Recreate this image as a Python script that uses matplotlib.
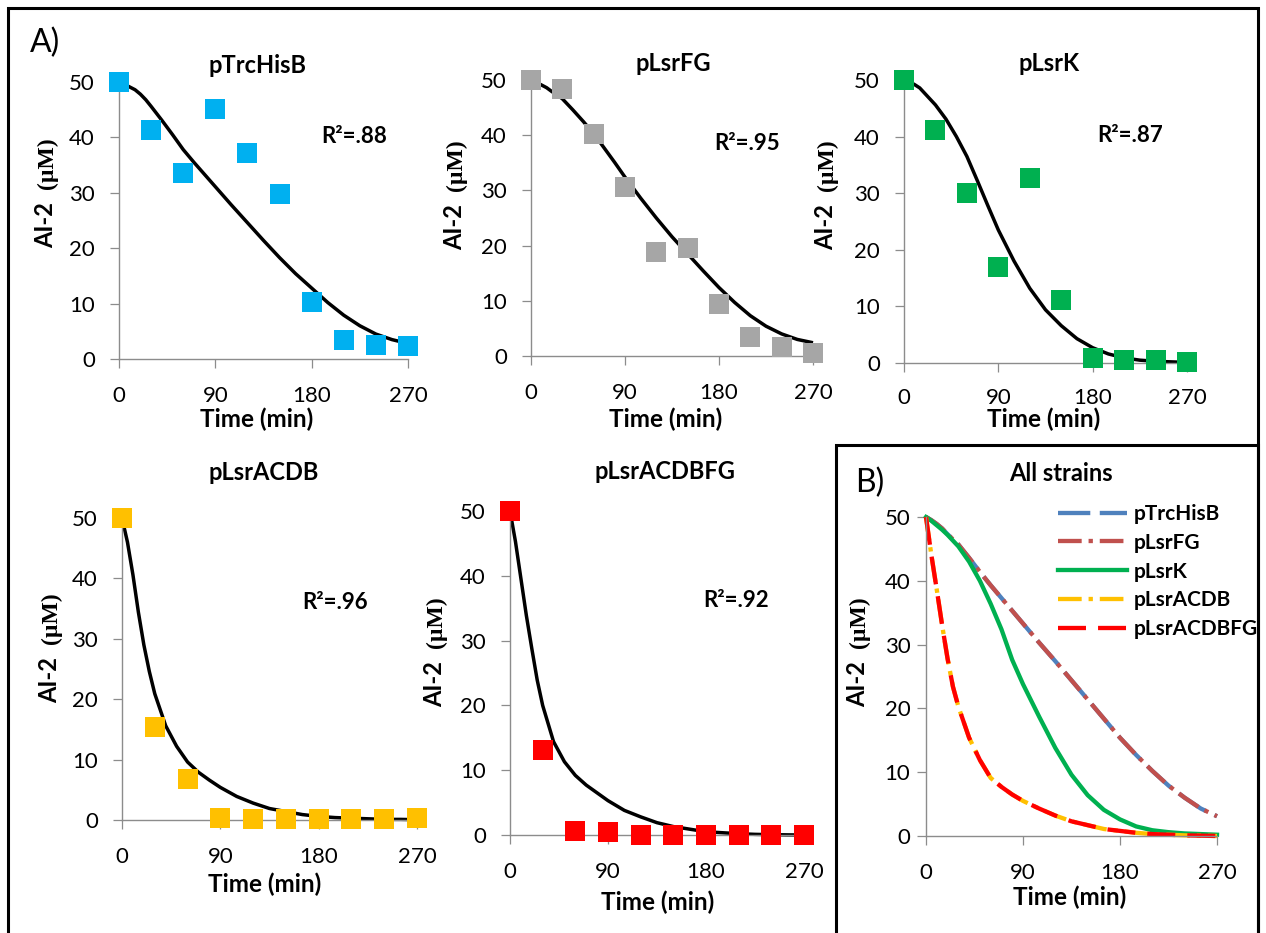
import matplotlib
matplotlib.use("Agg")
import matplotlib.pyplot as plt
from matplotlib.patches import Rectangle

W, H = 1266, 933
plt.rcParams['font.family'] = ['Lato', 'DejaVu Sans']

# Sampling times of the measurements (min)
time_pts = [0, 30, 60, 90, 120, 150, 180, 210, 240, 270]

# Measured AI-2 (uM)
trchisb_obs = [50, 41.4, 33.6, 45.2, 37.2, 29.7, 10.2, 3.5, 2.6, 2.4]
lsrfg_obs = [50, 48.4, 40.2, 30.7, 18.9, 19.5, 9.4, 3.4, 1.7, 0.6]
lsrk_obs = [50, 41.2, 30.0, 17.0, 32.6, 11.2, 0.9, 0.5, 0.5, 0.1]
lsracdb_obs = [50, 15.4, 6.8, 0.3, 0.1, 0.1, 0.1, 0.1, 0.1, 0.3]
lsracdbfg_obs = [50, 13.1, 0.6, 0.4, 0.0, 0.0, 0.0, 0.0, 0.0, 0.0]

# Model curves (min / uM)
fit_t = [0, 5, 10, 15, 20, 25, 30, 40, 50, 60, 70, 80, 90, 105, 120, 135,
         150, 165, 180, 195, 210, 225, 240, 255, 270]
trchisb_fit = [50, 49.6, 49.1, 48.6, 47.8, 46.8, 45.6, 43.1, 40.5, 37.8, 35.5, 33.3,
               31.1, 27.8, 24.6, 21.4, 18.3, 15.4, 12.8, 10.2, 7.9, 6.0, 4.5, 3.5, 2.8]
lsrfg_fit = [50, 49.6, 49.1, 48.6, 47.9, 47.3, 46.6, 44.6, 42.5, 40.3, 37.7, 35.1,
             32.4, 28.6, 25.0, 21.6, 18.5, 15.4, 12.4, 9.7, 7.3, 5.4, 4.0, 3.0, 2.4]
lsrk_fit = [50, 49.7, 49.2, 48.6, 47.6, 46.6, 45.6, 43.1, 40.0, 36.5, 32.2, 27.8,
            23.5, 18.0, 13.2, 9.4, 6.6, 4.3, 2.7, 1.6, 0.9, 0.5, 0.3, 0.2, 0.1]
lsracdb_fit = [50, 46.0, 40.6, 34.4, 29.0, 24.6, 20.9, 15.6, 12.2, 9.6, 7.9, 6.6,
               5.4, 3.9, 2.8, 1.9, 1.4, 0.9, 0.6, 0.4, 0.3, 0.2, 0.1, 0.1, 0.05]
lsracdbfg_fit = [50, 45.3, 39.6, 33.9, 28.8, 23.9, 20.0, 14.4, 11.3, 9.2, 7.7, 6.5,
                 5.3, 3.8, 2.8, 1.9, 1.3, 0.9, 0.5, 0.35, 0.2, 0.1, 0.05, 0.02, 0.0]

# Curves of the combined panel
all_trchisb = [50, 49.5, 48.9, 48.2, 47.3, 46.5, 45.7, 43.6, 41.4, 39.3, 37.3, 35.3,
               33.3, 30.3, 27.4, 24.4, 21.4, 18.4, 15.4, 12.7, 10.2, 7.9, 6.0, 4.3, 3.1]
all_lsrfg = [50, 49.5, 48.9, 48.2, 47.3, 46.5, 45.7, 43.6, 41.4, 39.3, 37.3, 35.3,
             33.3, 30.3, 27.4, 24.4, 21.4, 18.4, 15.4, 12.7, 10.2, 7.9, 6.0, 4.3, 3.1]
all_lsrk = [50, 49.4, 48.7, 48.0, 47.2, 46.3, 45.4, 43.0, 40.0, 36.4, 32.4, 27.6,
            23.8, 18.7, 13.8, 9.6, 6.4, 4.1, 2.6, 1.5, 0.9, 0.6, 0.4, 0.3, 0.2]
all_lsracdb = [50, 44.0, 38.6, 33.0, 27.8, 23.4, 20.3, 15.4, 11.9, 9.1, 7.7, 6.5,
               5.5, 4.3, 3.2, 2.3, 1.7, 1.1, 0.8, 0.5, 0.3, 0.2, 0.1, 0.05, 0.0]
all_lsracdbfg = [50, 44.0, 38.6, 33.0, 27.8, 23.4, 20.3, 15.4, 11.9, 9.1, 7.7, 6.5,
                 5.5, 4.3, 3.2, 2.3, 1.7, 1.1, 0.8, 0.5, 0.3, 0.2, 0.1, 0.05, 0.0]

strain_names = ["pTrcHisB", "pLsrFG", "pLsrK", "pLsrACDB", "pLsrACDBFG"]
r2_labels = ["R²=.88", "R²=.95", "R²=.87", "R²=.96", "R²=.92"]
x_ticks = [0, 90, 180, 270]
y_ticks = [0, 10, 20, 30, 40, 50]

AXIS_GRAY = "#8c8c8c"
marker_colors = ["#00B0F0", "#A6A6A6", "#00B050", "#FFC000", "#FF0000"]
line_colors = ["#4F81BD", "#C0504D", "#00B050", "#FFC000", "#FF0000"]

fig = plt.figure(figsize=(W / 100, H / 100), dpi=100)


def fx(x):
    return x / W


def fy(y):
    return 1 - y / H


def add_axes_px(left, top, right, bottom):
    return fig.add_axes([fx(left), fy(bottom), (right - left) / W, (bottom - top) / H])


def style(ax, ypad=11, xpad=13):
    ax.set_xlim(0, 270)
    ax.set_ylim(0, 50)
    ax.set_xticks(x_ticks)
    ax.set_yticks(y_ticks)
    for s in ("top", "right"):
        ax.spines[s].set_visible(False)
    for s in ("left", "bottom"):
        ax.spines[s].set_color(AXIS_GRAY)
        ax.spines[s].set_linewidth(1.0)
    ax.tick_params(direction="out", color=AXIS_GRAY, width=0.9, length=6.3,
                   labelsize=16, labelcolor="black")
    ax.tick_params(axis="x", pad=xpad)
    ax.tick_params(axis="y", pad=ypad)
    ax.patch.set_alpha(0)


ylabel_parts = []


def ylabel_px(base_x, start_y):
    t = fig.text(fx(base_x), fy(start_y), "AI-2", rotation=90, rotation_mode="anchor",
                 ha="left", va="baseline", fontsize=17, fontweight="bold")
    ylabel_parts.append((t, base_x))


def fig_text(x, y, s, **kw):
    fig.text(fx(x), fy(y), s, **kw)


# Individual strain panels: (left, top, right, bottom) in pixels
boxes = [(119, 82, 408, 359), (531, 80, 813, 356), (904, 80, 1187, 363),
         (122, 518, 417, 820), (510, 511, 804, 835)]
obs_sets = [trchisb_obs, lsrfg_obs, lsrk_obs, lsracdb_obs, lsracdbfg_obs]
fit_sets = [trchisb_fit, lsrfg_fit, lsrk_fit, lsracdb_fit, lsracdbfg_fit]
title_pos = [(257.5, 72.7), (673.7, 71), (1049, 71), (263.3, 480), (664.5, 479)]
r2_pos = [(220, 39.0), (207.3, 37.3), (215.6, 39.0), (195, 34.9), (207.3, 35.2)]
xlabel_pos = [(257, 427.5), (666, 427.5), (1043.3, 427), (264.7, 891.7), (657.5, 910)]
ylabel_pos = [(53.3, 248.3), (461.7, 250), (833, 250), (56.7, 703.3), (442.5, 706.7)]
x_pads = [13, 13, 11.5, 13, 13]

for i in range(5):
    ax = add_axes_px(*boxes[i])
    style(ax, xpad=x_pads[i])
    ax.plot(fit_t, fit_sets[i], color="black", lw=2.5, solid_joinstyle="round",
            solid_capstyle="butt", zorder=2, clip_on=False)
    ax.plot(time_pts, obs_sets[i], ls="none", marker="s", ms=13.7, mew=0,
            color=marker_colors[i], zorder=3, clip_on=False)
    ax.text(r2_pos[i][0], r2_pos[i][1], r2_labels[i], ha="center", va="baseline",
            fontsize=16, fontweight="bold")
    fig_text(*title_pos[i], strain_names[i], ha="center", va="baseline",
             fontsize=17, fontweight="bold")
    fig_text(*xlabel_pos[i], "Time (min)", ha="center", va="baseline",
             fontsize=17.5, fontweight="bold")
    ylabel_px(*ylabel_pos[i])

# Combined panel
axb = add_axes_px(926, 517, 1217, 836)
style(axb, ypad=5)
all_sets = [all_trchisb, all_lsrfg, all_lsrk, all_lsracdb, all_lsracdbfg]
dash_styles = [(0, (7.5, 2.2)), (0, (5.5, 1.6, 1.0, 1.6)), "-",
               (0, (5.5, 1.6, 1.0, 1.6)), (0, (6.5, 2.8))]
for name, vals, col, ls in zip(strain_names, all_sets, line_colors, dash_styles):
    axb.plot(fit_t, vals, color=col, lw=3.1, ls=ls, dash_capstyle="butt",
             solid_joinstyle="round", label=name, clip_on=False)
axb.legend(loc="upper left", bbox_to_anchor=(fx(1058), fy(504)),
           bbox_transform=fig.transFigure, frameon=False, borderpad=0,
           borderaxespad=0, handlelength=3.3, handletextpad=0.35, labelspacing=0.42,
           prop={"size": 15, "weight": "bold"})
fig_text(1061, 481, "All strains", ha="center", va="baseline", fontsize=17,
         fontweight="bold")
fig_text(1070, 905, "Time (min)", ha="center", va="baseline", fontsize=17.5,
         fontweight="bold")
ylabel_px(865, 706.7)

# Panel letters
fig_text(30, 51.7, "A)", ha="left", va="baseline", fontsize=23)
fig_text(855, 491.7, "B)", ha="left", va="baseline", fontsize=23)

# Frames
fig.add_artist(Rectangle((fx(8), fy(945)), (1258 - 8) / W, (945 - 8) / H,
                         transform=fig.transFigure, fill=False, lw=2.2,
                         edgecolor="black", clip_on=False))
fig.add_artist(Rectangle((fx(836), fy(945)), (1258 - 836) / W, (945 - 445) / H,
                         transform=fig.transFigure, fill=False, lw=2.2,
                         edgecolor="black", clip_on=False))

# Unit part of the y labels, set in a serif face after the "AI-2" part
fig.canvas.draw()
for t, base_x in ylabel_parts:
    bb = t.get_window_extent()
    fig.text(fx(base_x), (bb.y1 + 13) / H, "(µM)", rotation=90, rotation_mode="anchor",
             ha="left", va="baseline", fontsize=17, fontweight="bold",
             family=["Liberation Serif", "DejaVu Serif"])

fig.savefig("out.png", dpi=100)
